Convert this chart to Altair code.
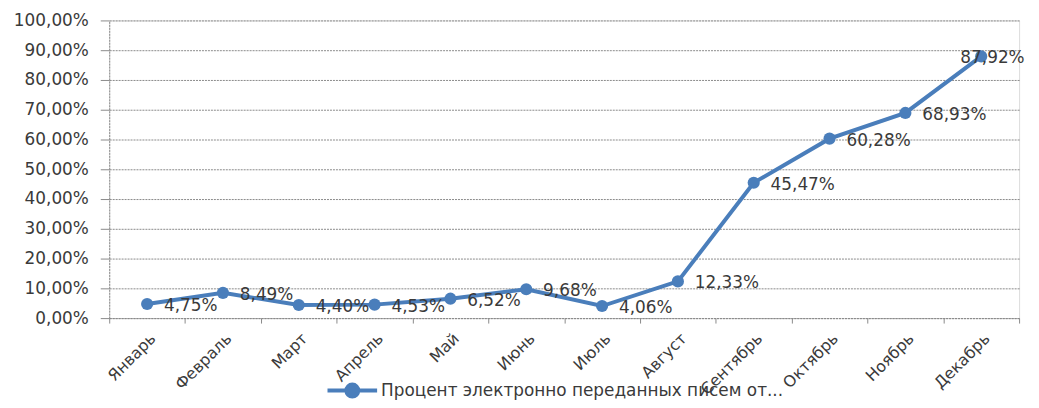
import altair as alt
import pandas as pd

months = ["Январь", "Февраль", "Март", "Апрель", "Май", "Июнь",
          "Июль", "Август", "Сентябрь", "Октябрь", "Ноябрь", "Декабрь"]
values = [0.0475, 0.0849, 0.0440, 0.0453, 0.0652, 0.0968,
          0.0406, 0.1233, 0.4547, 0.6028, 0.6893, 0.8792]
series_name = "Процент электронно переданных писем от..."
y_ticks = [0, 0.1, 0.2, 0.3, 0.4, 0.5, 0.6, 0.7, 0.8, 0.9, 1.0]

df = pd.DataFrame({"month": months, "value": values, "series": series_name})

BLUE = "#4A7EBB"
TXT = "#3A3A3A"
GRID = "#8A8A8A"
FONT = "DejaVu Sans"

x = alt.X("month:N", sort=months, title=None,
          scale=alt.Scale(paddingInner=0, paddingOuter=0),
          axis=alt.Axis(labelAngle=-45, labelAlign="right", labelBaseline="top",
                        labelPadding=7, labelFontSize=16, labelColor=TXT, labelFont=FONT,
                        tickBand="extent", ticks=True, tickSize=5, tickColor=GRID,
                        domainColor=GRID, domainDash=[2, 1], grid=False))
y = alt.Y("value:Q", title=None,
          scale=alt.Scale(domain=[0, 1], nice=False),
          axis=alt.Axis(values=y_ticks,
                        labelExpr="replace(format(datum.value, '.2%'), '.', ',')",
                        labelFontSize=17, labelColor=TXT, labelFont=FONT, labelPadding=12,
                        tickSize=9, tickColor=GRID, domainColor=GRID, domainDash=[2, 1],
                        grid=True, gridColor=GRID, gridDash=[2, 1], gridWidth=1))

color = alt.Color("series:N", scale=alt.Scale(domain=[series_name], range=[BLUE]),
                  legend=alt.Legend(title=None, orient="none", legendX=233, legendY=361,
                                    padding=0,
                                    symbolType="M-2.5,0H2.5M-0.6,0A0.6,0.6 0 1 1 0.6,0A0.6,0.6 0 1 1 -0.6,0Z",
                                    symbolSize=400, symbolStrokeWidth=4,
                                    symbolFillColor=BLUE, symbolStrokeColor=BLUE,
                                    labelOffset=17, labelFontSize=17, labelFont=FONT,
                                    labelColor=TXT, labelLimit=600))

base = alt.Chart(df).encode(x=x, y=y)

line = base.mark_line(strokeWidth=4).encode(color=color)
points = base.mark_point(filled=True, size=150, opacity=1, shape="circle").encode(
    color=alt.Color("series:N", scale=alt.Scale(domain=[series_name], range=[BLUE]), legend=None))

lab = base.transform_calculate(
    lbl="replace(format(datum.value, '.2%'), '.', ',')"
)
labels = lab.transform_filter(alt.datum.month != "Декабрь").mark_text(
    align="left", baseline="middle", dx=17, dy=2, fontSize=17, font=FONT, color=TXT
).encode(text="lbl:N")
last_label = lab.transform_filter(alt.datum.month == "Декабрь").mark_text(
    align="left", baseline="middle", dx=-21, dy=2, fontSize=17, font=FONT, color=TXT
).encode(text="lbl:N")

chart = alt.layer(line, points, labels, last_label).properties(
    width=917, height=300,
    autosize=alt.AutoSizeParams(type="none"),
    padding={"left": 102, "top": 11, "right": 12, "bottom": 81},
).configure_view(stroke=None).configure(background="white")

chart.save("out.html", embed_options={"renderer": "svg", "actions": False})
